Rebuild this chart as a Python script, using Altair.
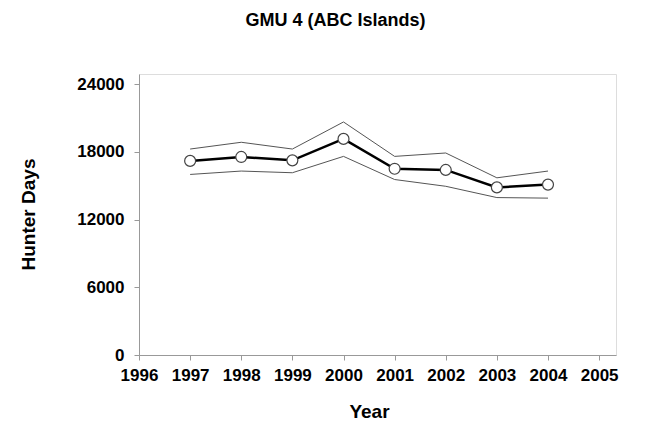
import altair as alt
import pandas as pd

years = [1997, 1998, 1999, 2000, 2001, 2002, 2003, 2004]
estimate = [17200, 17550, 17250, 19150, 16500, 16400, 14850, 15100]
upper = [18250, 18850, 18250, 20650, 17600, 17900, 15700, 16300]
lower = [16000, 16300, 16150, 17600, 15550, 14950, 13950, 13900]
x_ticks = [1996, 1997, 1998, 1999, 2000, 2001, 2002, 2003, 2004, 2005]
y_ticks = [0, 6000, 12000, 18000, 24000]

df = pd.DataFrame({"Year": years, "Est": estimate, "Upper": upper, "Lower": lower})

xs = alt.Scale(domain=[1996, 2005.33], nice=False, zero=False)
ys = alt.Scale(domain=[0, 24900], nice=False)

xax = alt.Axis(values=x_ticks, format="d", title="Year", grid=False, labelOverlap=False,
               tickSize=5, tickColor="#999", domainColor="#999",
               labelPadding=7, labelFontSize=17, labelFontWeight="bold", labelColor="black",
               labelFont="Liberation Sans", labelBound=False, labelFlush=False,
               titleFontSize=19, titleFontWeight="bold", titleFont="Liberation Sans",
               titleX=230, titleY=56, titleBaseline="middle", titleAlign="center")
yax = alt.Axis(values=y_ticks, format="d", title="Hunter Days", grid=False, labelOverlap=False,
               tickSize=5, tickColor="#999", domainColor="#999",
               labelPadding=10, labelFontSize=17, labelFontWeight="bold", labelColor="black",
               labelFont="Liberation Sans",
               titleFontSize=19, titleFontWeight="bold", titleFont="Liberation Sans",
               titleX=-111, titleY=140, titleBaseline="middle", titleAlign="center", titleAngle=270)

base = alt.Chart(df)
up = base.mark_line(color="#555", strokeWidth=1).encode(
    x=alt.X("Year:Q", scale=xs, axis=xax), y=alt.Y("Upper:Q", scale=ys, axis=yax))
lo = base.mark_line(color="#555", strokeWidth=1).encode(
    x=alt.X("Year:Q", scale=xs), y=alt.Y("Lower:Q", scale=ys))
mid = base.mark_line(color="black", strokeWidth=2.5).encode(
    x=alt.X("Year:Q", scale=xs), y=alt.Y("Est:Q", scale=ys))
pts = base.mark_point(filled=True, fill="white", stroke="#444", strokeWidth=1.2, size=120, opacity=1).encode(
    x=alt.X("Year:Q", scale=xs), y=alt.Y("Est:Q", scale=ys))

chart = alt.layer(up, lo, mid, pts).properties(
    width=477, height=281,
    title=alt.TitleParams("GMU 4 (ABC Islands)", anchor="middle", frame="group", dx=-42,
                          offset=30, baseline="alphabetic", fontSize=18, fontWeight="bold",
                          font="Liberation Sans", color="black"),
    autosize=alt.AutoSizeParams(type="none"),
    padding={"left": 139, "top": 74, "right": 36, "bottom": 68},
).configure_view(stroke="#999", strokeWidth=1).configure(background="white")

chart.save("out.html", embed_options={"renderer": "svg", "actions": False})
